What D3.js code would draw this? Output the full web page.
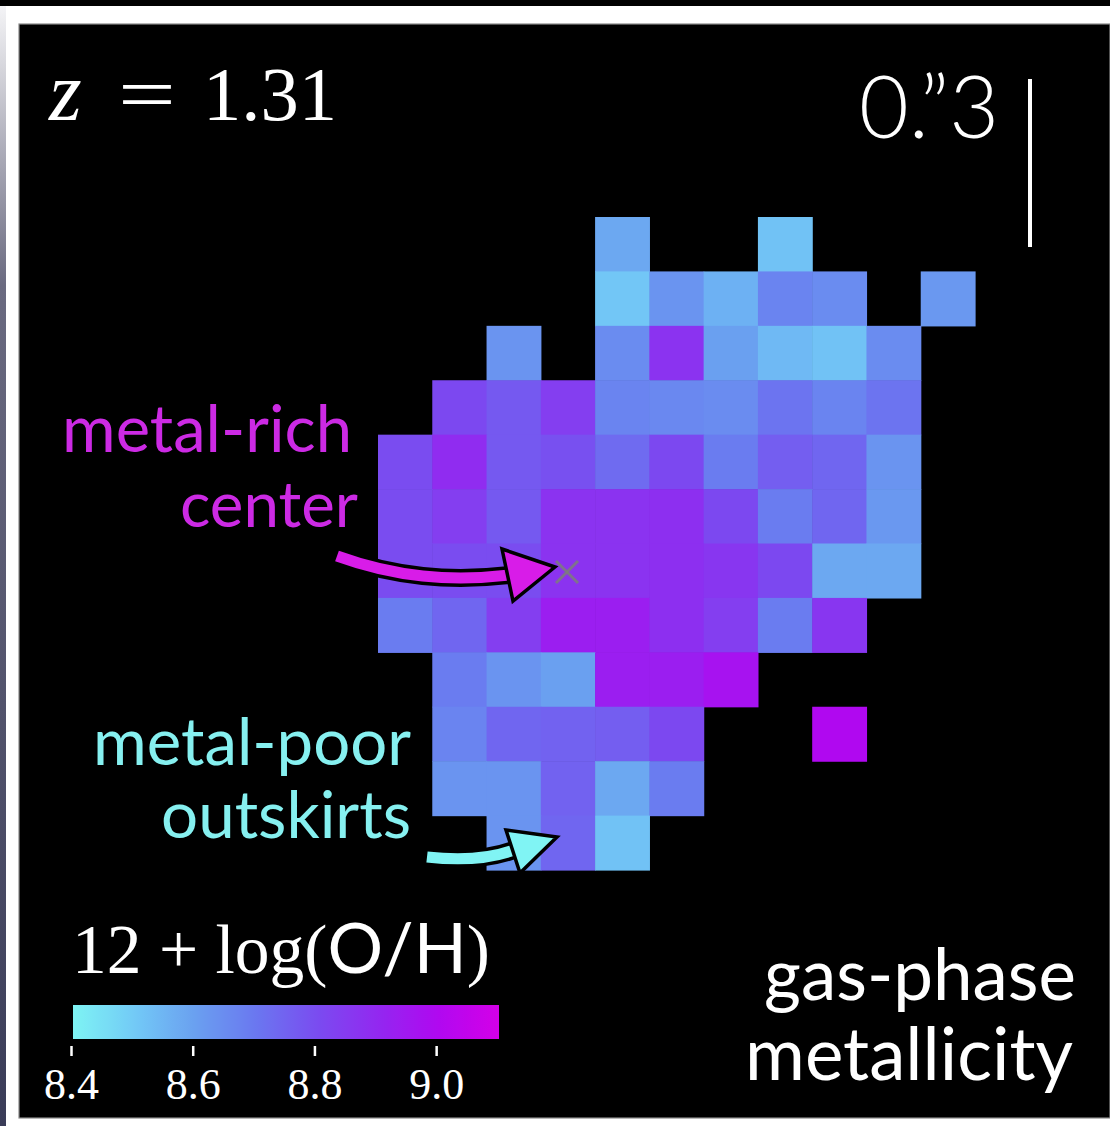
<!DOCTYPE html>
<html>
<head>
<meta charset="utf-8">
<script src="https://cdn.jsdelivr.net/npm/d3@7"></script>
<style>
  html, body { margin: 0; padding: 0; background: #ffffff; }
  svg { display: block; }
</style>
</head>
<body>
<script>
// Gas-phase metallicity, 12 + log(O/H), one array per spaxel row (top to bottom).
// null marks a spaxel without a measurement.
const row00 = [null, null, null, null, 8.58, null, null, 8.52, null, null, null];
const row01 = [null, null, null, null, 8.51, 8.63, 8.56, 8.67, 8.65, null, 8.62];
const row02 = [null, null, 8.63, null, 8.65, 8.87, 8.60, 8.54, 8.52, 8.65, null];
const row03 = [null, 8.81, 8.77, 8.84, 8.67, 8.66, 8.65, 8.71, 8.67, 8.71, null];
const row04 = [8.80, 8.89, 8.77, 8.79, 8.73, 8.81, 8.69, 8.76, 8.74, 8.63, null];
const row05 = [8.80, 8.84, 8.77, 8.87, 8.87, 8.88, 8.81, 8.69, 8.74, 8.62, null];
const row06 = [8.80, 8.80, 8.80, 8.87, 8.87, 8.88, 8.86, 8.81, 8.58, 8.58, null];
const row07 = [8.69, 8.74, 8.84, 8.93, 8.93, 8.88, 8.84, 8.69, 8.86, null, null];
const row08 = [null, 8.69, 8.63, 8.60, 8.93, 8.93, 8.97, null, null, null, null];
const row09 = [null, 8.67, 8.74, 8.75, 8.76, 8.81, null, null, 9.00, null, null];
const row10 = [null, 8.63, 8.63, 8.75, 8.58, 8.69, null, null, null, null, null];
const row11 = [null, null, 8.63, 8.74, 8.52, null, null, null, null, null, null];
const metallicityRows = [row00, row01, row02, row03, row04, row05, row06, row07, row08, row09, row10, row11];

// Colour map anchors (value -> colour), cyan through blue and violet to magenta
const cmapValues = [8.4, 8.505, 8.6, 8.7, 8.8, 8.9, 9.0, 9.1];
const cmapColors = ["#7ef4f4", "#72c8f6", "#6aa0f0", "#6a78f0", "#7a4cf0", "#9228f0", "#b008f0", "#d400e8"];

// Colour bar range and ticks
const cbarDomain = [8.4, 9.1];
const cbarTicks = [8.4, 8.6, 8.8, 9.0];

const W = 1110, H = 1126;
const svg = d3.select("body").append("svg").attr("width", W).attr("height", H);

// page frame
svg.append("rect").attr("x", 0).attr("y", 0).attr("width", W).attr("height", H).attr("fill", "#ffffff");
svg.append("rect").attr("x", 0).attr("y", 0).attr("width", W).attr("height", 6).attr("fill", "#000000");
const defs = svg.append("defs");
const edge = defs.append("linearGradient").attr("id", "edgeShade")
  .attr("x1", 0).attr("y1", 0).attr("x2", 0).attr("y2", 1);
edge.append("stop").attr("offset", "0%").attr("stop-color", "#f4f4f6");
edge.append("stop").attr("offset", "25%").attr("stop-color", "#6a6a80");
edge.append("stop").attr("offset", "100%").attr("stop-color", "#3a3c58");
svg.append("rect").attr("x", 0).attr("y", 6).attr("width", 6).attr("height", H - 6).attr("fill", "url(#edgeShade)");

// black figure panel
svg.append("rect").attr("x", 19).attr("y", 24).attr("width", W - 19).attr("height", 1094)
  .attr("fill", "#000000").attr("stroke", "#8a8a8a").attr("stroke-width", 1.2);

// spaxel grid scales
const nCols = row00.length, nRows = metallicityRows.length;
const x = d3.scaleBand().domain(d3.range(nCols)).range([378, 975]).padding(0);
const y = d3.scaleBand().domain(d3.range(nRows)).range([217, 870]).padding(0);
const color = d3.scaleLinear().domain(cmapValues).range(cmapColors).interpolate(d3.interpolateRgb).clamp(true);

const cells = [];
metallicityRows.forEach((row, r) => row.forEach((v, c) => { if (v !== null) cells.push({ r, c, v }); }));

svg.append("g").selectAll("rect").data(cells).join("rect")
  .attr("x", d => x(d.c))
  .attr("y", d => y(d.r))
  .attr("width", x.bandwidth() + 0.6)
  .attr("height", y.bandwidth() + 0.6)
  .attr("fill", d => color(d.v));

// centre marker
const cx = 567, cy = 572, arm = 11;
const marker = svg.append("g").attr("stroke", "#7c7c7c").attr("stroke-width", 3).attr("stroke-opacity", 0.85);
marker.append("line").attr("x1", cx - arm).attr("y1", cy - arm).attr("x2", cx + arm).attr("y2", cy + arm);
marker.append("line").attr("x1", cx - arm).attr("y1", cy + arm).attr("x2", cx + arm).attr("y2", cy - arm);

// curved annotation arrows
function arrow(shaft, head, fill) {
  const g = svg.append("g");
  g.append("path").attr("d", shaft).attr("fill", "none").attr("stroke", "#000").attr("stroke-width", 18).attr("stroke-linecap", "butt");
  g.append("path").attr("d", shaft).attr("fill", "none").attr("stroke", fill).attr("stroke-width", 11).attr("stroke-linecap", "butt");
  g.append("polygon").attr("points", head.map(p => p.join(",")).join(" "))
    .attr("fill", fill).attr("stroke", "#000").attr("stroke-width", 3.5).attr("stroke-linejoin", "miter");
}
arrow("M337,556 C395,577 450,582 510,575", [[502, 549], [555, 567], [513, 601]], "#d81ce8");
arrow("M427,857 C462,861 492,858 514,850", [[506, 830], [557, 837], [520, 873]], "#80f4f4");

// text helpers
function fit(sel, target) {
  const w = sel.node().getComputedTextLength();
  const fs = parseFloat(sel.attr("font-size"));
  sel.attr("font-size", fs * target / w);
  return sel;
}
const SANS = "Lato, 'Open Sans', sans-serif";
const SERIF = "'Liberation Serif', 'DejaVu Serif', serif";

function label(txt, xr, yb, size, fill, target, family, weight) {
  const t = svg.append("text").attr("x", xr).attr("y", yb).attr("text-anchor", "end")
    .attr("font-family", family || SANS).attr("font-size", size).attr("font-weight", weight || 400)
    .attr("fill", fill).text(txt);
  if (target) fit(t, target);
  return t;
}

// annotations
label("metal-rich", 352, 452, 64, "#cc2ae4", 290);
label("center", 358, 527, 64, "#cc2ae4", 178);
label("metal-poor", 411, 765, 64, "#86f0f0", 318);
label("outskirts", 411, 838, 64, "#86f0f0", 250);
label("gas-phase", 1076, 1000, 70, "#ffffff", 312);
label("metallicity", 1073, 1080, 70, "#ffffff", 328);

// redshift
svg.append("text").attr("x", 49).attr("y", 120).attr("font-family", SERIF).attr("font-style", "italic")
  .attr("font-size", 84).attr("fill", "#fff").text("z");
svg.append("text").attr("transform", "translate(118,120) scale(1.35,1)").attr("font-family", SERIF)
  .attr("font-size", 76).attr("fill", "#fff").text("=");
fit(svg.append("text").attr("x", 203).attr("y", 120).attr("font-family", SERIF)
  .attr("font-size", 76).attr("fill", "#fff").text("1.31"), 134);

// angular scale bar
label("0.\u201D3", 999, 138, 80, "#ffffff", 140, SANS, 300);
svg.append("line").attr("x1", 1030).attr("x2", 1030).attr("y1", 79).attr("y2", 247)
  .attr("stroke", "#ffffff").attr("stroke-width", 4);

// colour bar
const cb = d3.scaleLinear().domain(cbarDomain).range([73, 499]);
const grad = defs.append("linearGradient").attr("id", "cbarGrad").attr("x1", 0).attr("x2", 1).attr("y1", 0).attr("y2", 0);
d3.range(0, 1.0001, 0.02).forEach(t => {
  const v = cbarDomain[0] + t * (cbarDomain[1] - cbarDomain[0]);
  grad.append("stop").attr("offset", (t * 100) + "%").attr("stop-color", color(v));
});
svg.append("rect").attr("x", cb.range()[0]).attr("y", 1005)
  .attr("width", cb.range()[1] - cb.range()[0]).attr("height", 34).attr("fill", "url(#cbarGrad)");

const cbTitle = svg.append("text").attr("x", 72).attr("y", 973).attr("font-family", SERIF)
  .attr("font-size", 62).attr("fill", "#fff");
cbTitle.append("tspan").text("12 + log(");
cbTitle.append("tspan").attr("font-family", SANS).text("O/H");
cbTitle.append("tspan").text(")");
fit(cbTitle, 418);

const axis = d3.axisBottom(cb).tickValues(cbarTicks).tickFormat(d3.format(".1f")).tickSize(10).tickPadding(0);
const ag = svg.append("g").attr("transform", "translate(-2,1046)").call(axis);
ag.select(".domain").remove();
ag.selectAll(".tick line").attr("stroke", "#fff").attr("stroke-width", 2.5);
ag.selectAll(".tick text").attr("fill", "#fff").attr("font-family", SERIF).attr("font-size", 44)
  .attr("y", 53).attr("dy", 0);
</script>
</body>
</html>
